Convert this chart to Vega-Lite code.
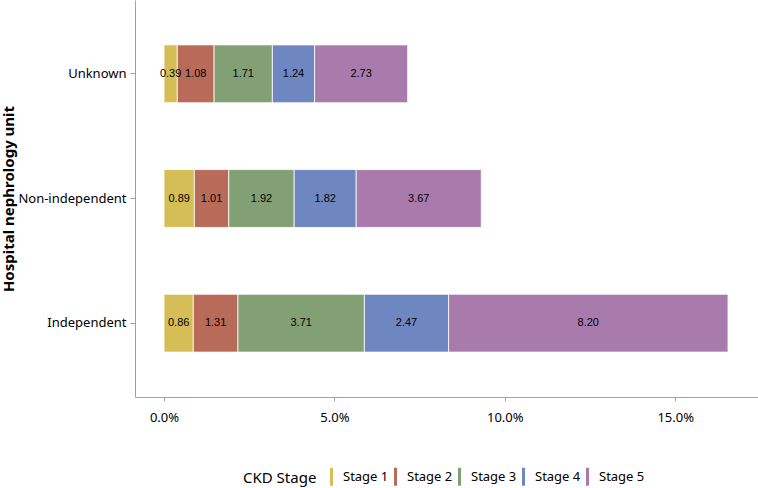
{
  "$schema": "https://vega.github.io/schema/vega-lite/v6.json",
  "width": 623,
  "height": 397,
  "autosize": {"type": "none"},
  "padding": {"left": 135, "top": 0, "right": 0, "bottom": 91},
  "background": "white",
  "data": {
    "values": [
      {"unit": "Unknown", "stage": "Stage 1", "value": 0.39},
      {"unit": "Unknown", "stage": "Stage 2", "value": 1.08},
      {"unit": "Unknown", "stage": "Stage 3", "value": 1.71},
      {"unit": "Unknown", "stage": "Stage 4", "value": 1.24},
      {"unit": "Unknown", "stage": "Stage 5", "value": 2.73},
      {"unit": "Non-independent", "stage": "Stage 1", "value": 0.89},
      {"unit": "Non-independent", "stage": "Stage 2", "value": 1.01},
      {"unit": "Non-independent", "stage": "Stage 3", "value": 1.92},
      {"unit": "Non-independent", "stage": "Stage 4", "value": 1.82},
      {"unit": "Non-independent", "stage": "Stage 5", "value": 3.67},
      {"unit": "Independent", "stage": "Stage 1", "value": 0.86},
      {"unit": "Independent", "stage": "Stage 2", "value": 1.31},
      {"unit": "Independent", "stage": "Stage 3", "value": 3.71},
      {"unit": "Independent", "stage": "Stage 4", "value": 2.47},
      {"unit": "Independent", "stage": "Stage 5", "value": 8.20}
    ]
  },
  "config": {
    "font": "Noto Sans",
    "view": {"stroke": null},
    "axis": {
      "domainColor": "#a0a0a0",
      "tickColor": "#a0a0a0",
      "grid": false,
      "labelFont": "Noto Sans",
      "labelFontSize": 13,
      "labelColor": "#000000"
    }
  },
  "encoding": {
    "y": {
      "field": "unit",
      "type": "nominal",
      "sort": ["Unknown", "Non-independent", "Independent"],
      "scale": {"paddingInner": 0.536, "paddingOuter": 0.36},
      "axis": {
        "title": "Hospital nephrology unit",
        "titleFont": "Noto Sans",
        "titleFontSize": 15,
        "titleFontWeight": "bold",
        "titleColor": "#000000",
        "titleX": -119,
        "tickSize": 5,
        "labelPadding": 4
      }
    },
    "x": {
      "field": "value",
      "type": "quantitative",
      "stack": "zero",
      "scale": {"domain": [-0.851, 17.43], "nice": false, "zero": false},
      "axis": {
        "title": null,
        "values": [0, 5, 10, 15],
        "labelExpr": "format(datum.value, '.1f') + '%'",
        "tickSize": 4,
        "labelPadding": 10
      }
    },
    "order": {"field": "stage", "type": "ordinal", "sort": "ascending"}
  },
  "layer": [
    {
      "mark": {"type": "bar", "stroke": "white", "strokeWidth": 0.8},
      "encoding": {
        "color": {
          "field": "stage",
          "type": "nominal",
          "scale": {
            "domain": ["Stage 1", "Stage 2", "Stage 3", "Stage 4", "Stage 5"],
            "range": ["#d4be55", "#b86b58", "#82a074", "#6e87c0", "#a97bad"]
          },
          "legend": {
            "title": "CKD Stage",
            "orient": "none",
            "direction": "horizontal",
            "legendX": 108,
            "legendY": 470,
            "titleOrient": "left",
            "titleFontSize": 15,
            "titleFontWeight": "normal",
            "titleColor": "#000000",
            "titlePadding": 8,
            "labelFontSize": 13,
            "labelColor": "#000000",
            "symbolType": "M-0.5,-3H0.5V3H-0.5Z",
            "symbolSize": 36,
            "symbolStrokeWidth": 0,
            "columnPadding": 0,
            "labelOffset": 5
          }
        }
      }
    },
    {
      "mark": {"type": "text", "font": "Liberation Sans", "fontSize": 11, "color": "#000000"},
      "encoding": {
        "x": {
          "field": "value",
          "type": "quantitative",
          "stack": "zero",
          "bandPosition": 0.5
        },
        "text": {"field": "value", "type": "quantitative", "format": ".2f"}
      }
    }
  ]
}
